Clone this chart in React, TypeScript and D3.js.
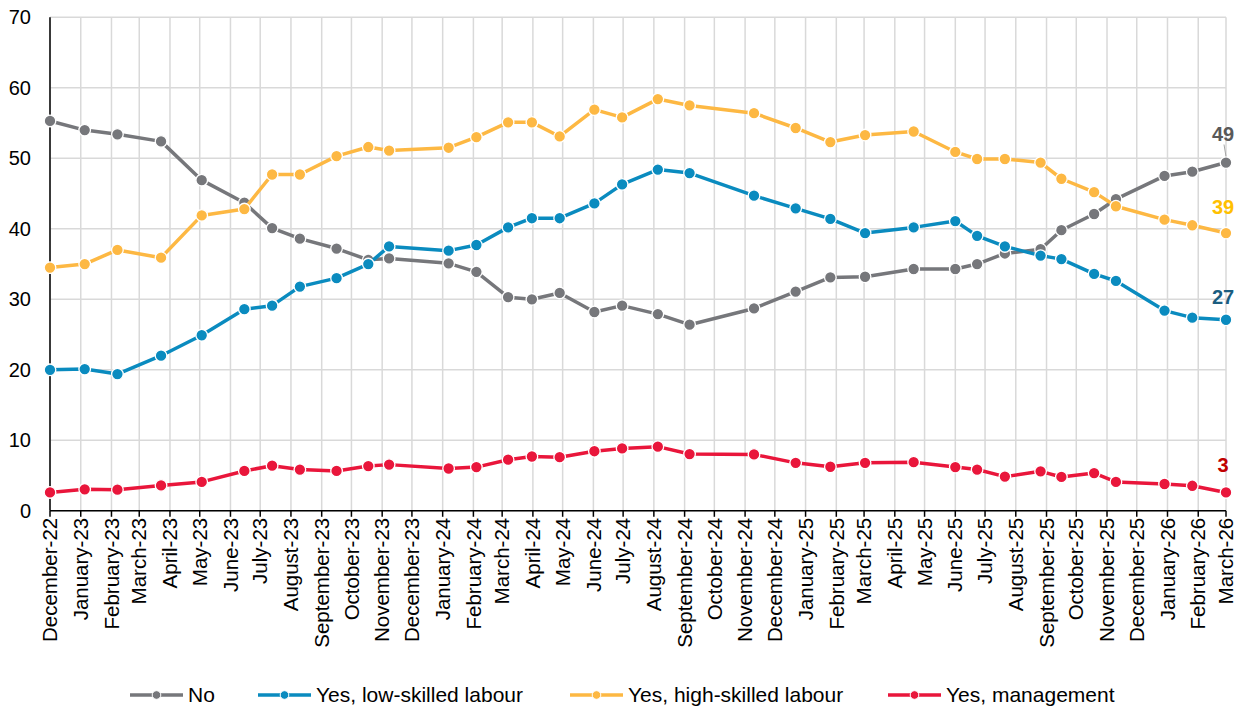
import React from "react";
import * as d3 from "d3";

const surveyDates = [
  "2022-12-01","2023-01-05","2023-02-07","2023-03-23","2023-05-03","2023-06-15","2023-07-13","2023-08-10",
  "2023-09-16","2023-10-18","2023-11-08","2024-01-07","2024-02-04","2024-03-07","2024-03-31","2024-04-28",
  "2024-06-02","2024-06-30","2024-08-05","2024-09-06","2024-11-10","2024-12-22","2025-01-26","2025-03-02",
  "2025-04-20","2025-06-01","2025-06-23","2025-07-21","2025-08-26","2025-09-16","2025-10-19","2025-11-10",
  "2025-12-29","2026-01-26","2026-03-01"
];

const noValues = [55.3,54.0,53.4,52.4,46.9,43.7,40.1,38.6,37.2,35.6,35.8,35.1,33.9,30.3,30.0,30.9,28.2,29.1,27.9,26.4,28.7,31.1,33.1,33.2,34.3,34.3,35.0,36.5,37.1,39.8,42.1,44.2,47.5,48.1,49.4];
const lowSkilledValues = [20.0,20.1,19.4,22.0,24.9,28.6,29.1,31.8,33.0,35.0,37.5,36.9,37.7,40.2,41.5,41.5,43.6,46.3,48.4,47.9,44.7,42.9,41.4,39.4,40.2,41.1,39.0,37.5,36.2,35.7,33.6,32.6,28.4,27.4,27.1];
const highSkilledValues = [34.5,35.0,37.0,35.9,41.9,42.8,47.7,47.7,50.3,51.6,51.1,51.5,53.0,55.1,55.1,53.1,56.9,55.8,58.4,57.5,56.4,54.3,52.3,53.3,53.8,50.9,49.9,49.9,49.4,47.1,45.2,43.2,41.3,40.5,39.4];
const managementValues = [2.6,3.05,3.0,3.6,4.1,5.65,6.4,5.85,5.65,6.35,6.55,6.0,6.2,7.25,7.7,7.6,8.45,8.85,9.1,8.05,8.0,6.8,6.25,6.8,6.9,6.2,5.85,4.85,5.6,4.8,5.35,4.1,3.8,3.55,2.6];

const seriesNames = ["No", "Yes, low-skilled labour", "Yes, high-skilled labour", "Yes, management"];
const yTicks = [0, 10, 20, 30, 40, 50, 60, 70];
const axisStart = "2022-12-01";
const axisEnd = "2026-03-01";

const seriesStyle = [
  { color: "#76777b", labelColor: "#595959", labelDy: -22, leader: true },
  { color: "#0a8bbf", labelColor: "#1a5d80", labelDy: -16, leader: false },
  { color: "#fdb843", labelColor: "#ffc000", labelDy: -19, leader: false },
  { color: "#e9163b", labelColor: "#c00000", labelDy: -20, leader: false },
];
const legendX = [130, 258, 570, 888];

const FONT = "'Liberation Sans', Arial, Helvetica, sans-serif";

export default function App() {
  const W = 1247, H = 711;
  const parse = d3.timeParse("%Y-%m-%d");
  const dates = surveyDates.map((s) => parse(s) as Date);
  const x = d3.scaleTime().domain([parse(axisStart) as Date, parse(axisEnd) as Date]).range([50, 1226]);
  const y = d3.scaleLinear().domain([0, 70]).range([510.8, 17.3]);
  const months = d3.timeMonth.range(parse(axisStart) as Date, d3.timeDay.offset(parse(axisEnd) as Date, 1));
  const fmt = d3.timeFormat("%B-%y");
  const all = [noValues, lowSkilledValues, highSkilledValues, managementValues];
  const line = d3.line<number>().x((_, i) => x(dates[i])).y((v) => y(v));

  return (
    <svg width={W} height={H} style={{ position: "absolute", left: 0, top: 0, background: "#fff" }} fontFamily={FONT}>
      <rect width={W} height={H} fill="#fff" />
      {/* gridlines */}
      {yTicks.map((t) => (
        <line key={"gy" + t} x1={50} x2={1226} y1={y(t)} y2={y(t)} stroke="#d9d9d9" strokeWidth={1.5} />
      ))}
      {months.map((m, i) => (
        <line key={"gx" + i} x1={x(m)} x2={x(m)} y1={y(70)} y2={y(0)} stroke="#d9d9d9" strokeWidth={1.5} />
      ))}
      {/* axes */}
      <line x1={50} x2={50} y1={y(70)} y2={y(0)} stroke="#000" strokeWidth={1.5} />
      <line x1={50} x2={1226} y1={y(0)} y2={y(0)} stroke="#000" strokeWidth={1.5} />
      {months.map((m, i) => (
        <line key={"tk" + i} x1={x(m)} x2={x(m)} y1={y(0)} y2={y(0) + 6} stroke="#000" strokeWidth={1.5} />
      ))}
      {yTicks.map((t) => (
        <text key={"yl" + t} x={31} y={y(t)} dy="0.35em" textAnchor="end" fontSize={20} fill="#000">{t}</text>
      ))}
      {months.map((m, i) => (
        <text key={"xl" + i} transform={`translate(${x(m)},${y(0) + 7}) rotate(-90)`} dy="0.35em" textAnchor="end" fontSize={20.5} fill="#000">
          {fmt(m)}
        </text>
      ))}
      {/* series */}
      {all.map((vals, si) => (
        <g key={"s" + si}>
          <path d={line(vals) || ""} fill="none" stroke={seriesStyle[si].color} strokeWidth={3.5} strokeLinejoin="round" />
          {vals.map((v, i) => (
            <circle key={i} cx={x(dates[i])} cy={y(v)} r={5.8} fill={seriesStyle[si].color} stroke="#fff" strokeWidth={1.3} />
          ))}
        </g>
      ))}
      {/* end labels */}
      {all.map((vals, si) => {
        const last = vals.length - 1;
        const px = x(dates[last]);
        const py = y(vals[last]);
        return (
          <g key={"lab" + si}>
            {seriesStyle[si].leader && (
              <line x1={px - 2} y1={py + seriesStyle[si].labelDy + 4} x2={px} y2={py - 6} stroke="#a6a6a6" strokeWidth={1} />
            )}
            <text x={px - 3} y={py + seriesStyle[si].labelDy} textAnchor="middle" fontSize={20} fontWeight="bold" fill={seriesStyle[si].labelColor}>
              {d3.format(".0f")(vals[last])}
            </text>
          </g>
        );
      })}
      {/* legend */}
      {seriesNames.map((name, si) => (
        <g key={"lg" + si} transform={`translate(${legendX[si]},695)`}>
          <line x1={0} x2={53} y1={0} y2={0} stroke={seriesStyle[si].color} strokeWidth={3.5} />
          <circle cx={26.5} cy={0} r={4.3} fill={seriesStyle[si].color} stroke="#fff" strokeWidth={1} />
          <text x={58} y={0} dy="0.35em" fontSize={21} fill="#000">{name}</text>
        </g>
      ))}
    </svg>
  );
}
